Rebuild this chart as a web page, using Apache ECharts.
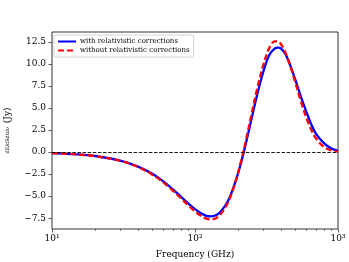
<!DOCTYPE html>
<html>
<head>
<meta charset="utf-8">
<script src="https://cdn.jsdelivr.net/npm/echarts@6/dist/echarts.min.js"></script>
<style>html,body{margin:0;padding:0;background:#fff}#c{width:349px;height:262px}</style>
</head>
<body>
<div id="c"></div>
<script>
const freqs = [10,15,20,30,40,50,60,70,80,90,100,110,120,130,140,150,170,190,210,230,250,270,300,330,360,380,400,430,460,500,550,600,650,700,800,900,1000];
const withRel = [-0.11,-0.25,-0.44,-0.96,-1.64,-2.44,-3.32,-4.22,-5.08,-5.85,-6.48,-6.94,-7.24,-7.30,-7.17,-6.84,-5.55,-3.55,-1.20,1.40,3.95,6.30,9.10,11.0,11.75,11.86,11.75,11.1,10.0,8.35,6.3,4.6,3.15,2.1,1.0,0.42,0.18];
const withoutRel = [-0.115,-0.258,-0.457,-0.99,-1.70,-2.53,-3.44,-4.37,-5.27,-6.07,-6.73,-7.22,-7.55,-7.64,-7.50,-7.14,-5.73,-3.60,-1.03,1.75,4.50,6.97,9.87,11.79,12.58,12.57,12.23,11.26,9.97,8.06,5.79,3.92,2.54,1.59,0.56,0.18,0.06];
const xMajorTicks = [10,100,1000];
const xMinorTicks = [20,30,40,50,60,70,80,90,200,300,400,500,600,700,800,900];
const yTicks = [-7.5,-5,-2.5,0,2.5,5,7.5,10,12.5];
const seriesNames = ['with relativistic corrections','without relativistic corrections'];

const font = 'DejaVu Serif';
const sup = {1:'\u00b9',2:'\u00b2',3:'\u00b3'};
const chart = echarts.init(document.getElementById('c'), null, {renderer:'canvas'});
chart.setOption({
  animation:false,
  textStyle:{fontFamily:font},
  grid:{left:52,right:11,top:32,bottom:33,containLabel:false,outerBoundsMode:'none',show:true,borderColor:'#333',borderWidth:1,backgroundColor:'transparent'},
  legend:{
    left:54, top:35, orient:'vertical', itemWidth:18, itemHeight:8, itemGap:2,
    padding:[3,4,3,3], borderColor:'#ccc', borderWidth:0.8, borderRadius:2,
    backgroundColor:'rgba(255,255,255,0.8)',
    itemStyle:{opacity:0},
    lineStyle:{inherit:true},
    textStyle:{fontFamily:font,fontSize:7,color:'#000',padding:[0,0,0,-1]},
    data:seriesNames
  },
  xAxis:[{
    type:'log', logBase:10, min:10, max:1000, position:'bottom',
    axisLine:{show:false,onZero:false},
    axisTick:{show:true,inside:false,length:3.5,lineStyle:{color:'#333',width:0.8},customValues:xMajorTicks},
    axisLabel:{fontFamily:font,fontSize:9,color:'#000',margin:5,customValues:xMajorTicks,
      formatter:v=>'10'+sup[Math.round(Math.log10(v))]},
    splitLine:{show:false},
    name:'Frequency (GHz)', nameLocation:'middle', nameGap:21,
    nameTextStyle:{fontFamily:font,fontSize:9,color:'#000'}
  },{
    type:'log', logBase:10, min:10, max:1000, position:'bottom',
    axisLine:{show:false,onZero:false},
    axisTick:{show:true,inside:false,length:2,lineStyle:{color:'#333',width:0.6},customValues:xMinorTicks},
    axisLabel:{show:false},
    splitLine:{show:false}
  }],
  yAxis:{
    type:'value', min:-8.73, max:13.64,
    axisLine:{show:false,onZero:false},
    axisTick:{show:true,inside:false,length:3.5,lineStyle:{color:'#333',width:0.8},customValues:yTicks},
    axisLabel:{fontFamily:font,fontSize:9,color:'#000',margin:6,customValues:yTicks,
      formatter:v=>(v<0?'\u2212':'')+Math.abs(v).toFixed(1)},
    splitLine:{show:false},
    name:'{f|dE/dSdtd\u03bd} {u|(Jy)}', nameLocation:'middle', nameGap:37, nameRotate:90,
    nameTextStyle:{fontFamily:font,color:'#000',rich:{f:{fontFamily:font,fontSize:5,color:'#000'},u:{fontFamily:font,fontSize:9,color:'#000'}}}
  },
  series:[{
    name:seriesNames[0], type:'line', xAxisIndex:0, symbol:'none', smooth:0.35,
    data:freqs.map((f,i)=>[f,withRel[i]]),
    lineStyle:{color:'#0000ff',width:2.3},
    itemStyle:{color:'#0000ff'},
    z:2,
    markLine:{silent:true,symbol:'none',label:{show:false},
      lineStyle:{color:'#000',type:[3.5,1.6],width:0.9},
      data:[{yAxis:0}]}
  },{
    name:seriesNames[1], type:'line', xAxisIndex:0, symbol:'none', smooth:0.35,
    data:freqs.map((f,i)=>[f,withoutRel[i]]),
    lineStyle:{color:'#ff0000',width:2.3,type:[6,3]},
    itemStyle:{color:'#ff0000'},
    z:3
  }]
});
</script>
</body>
</html>
